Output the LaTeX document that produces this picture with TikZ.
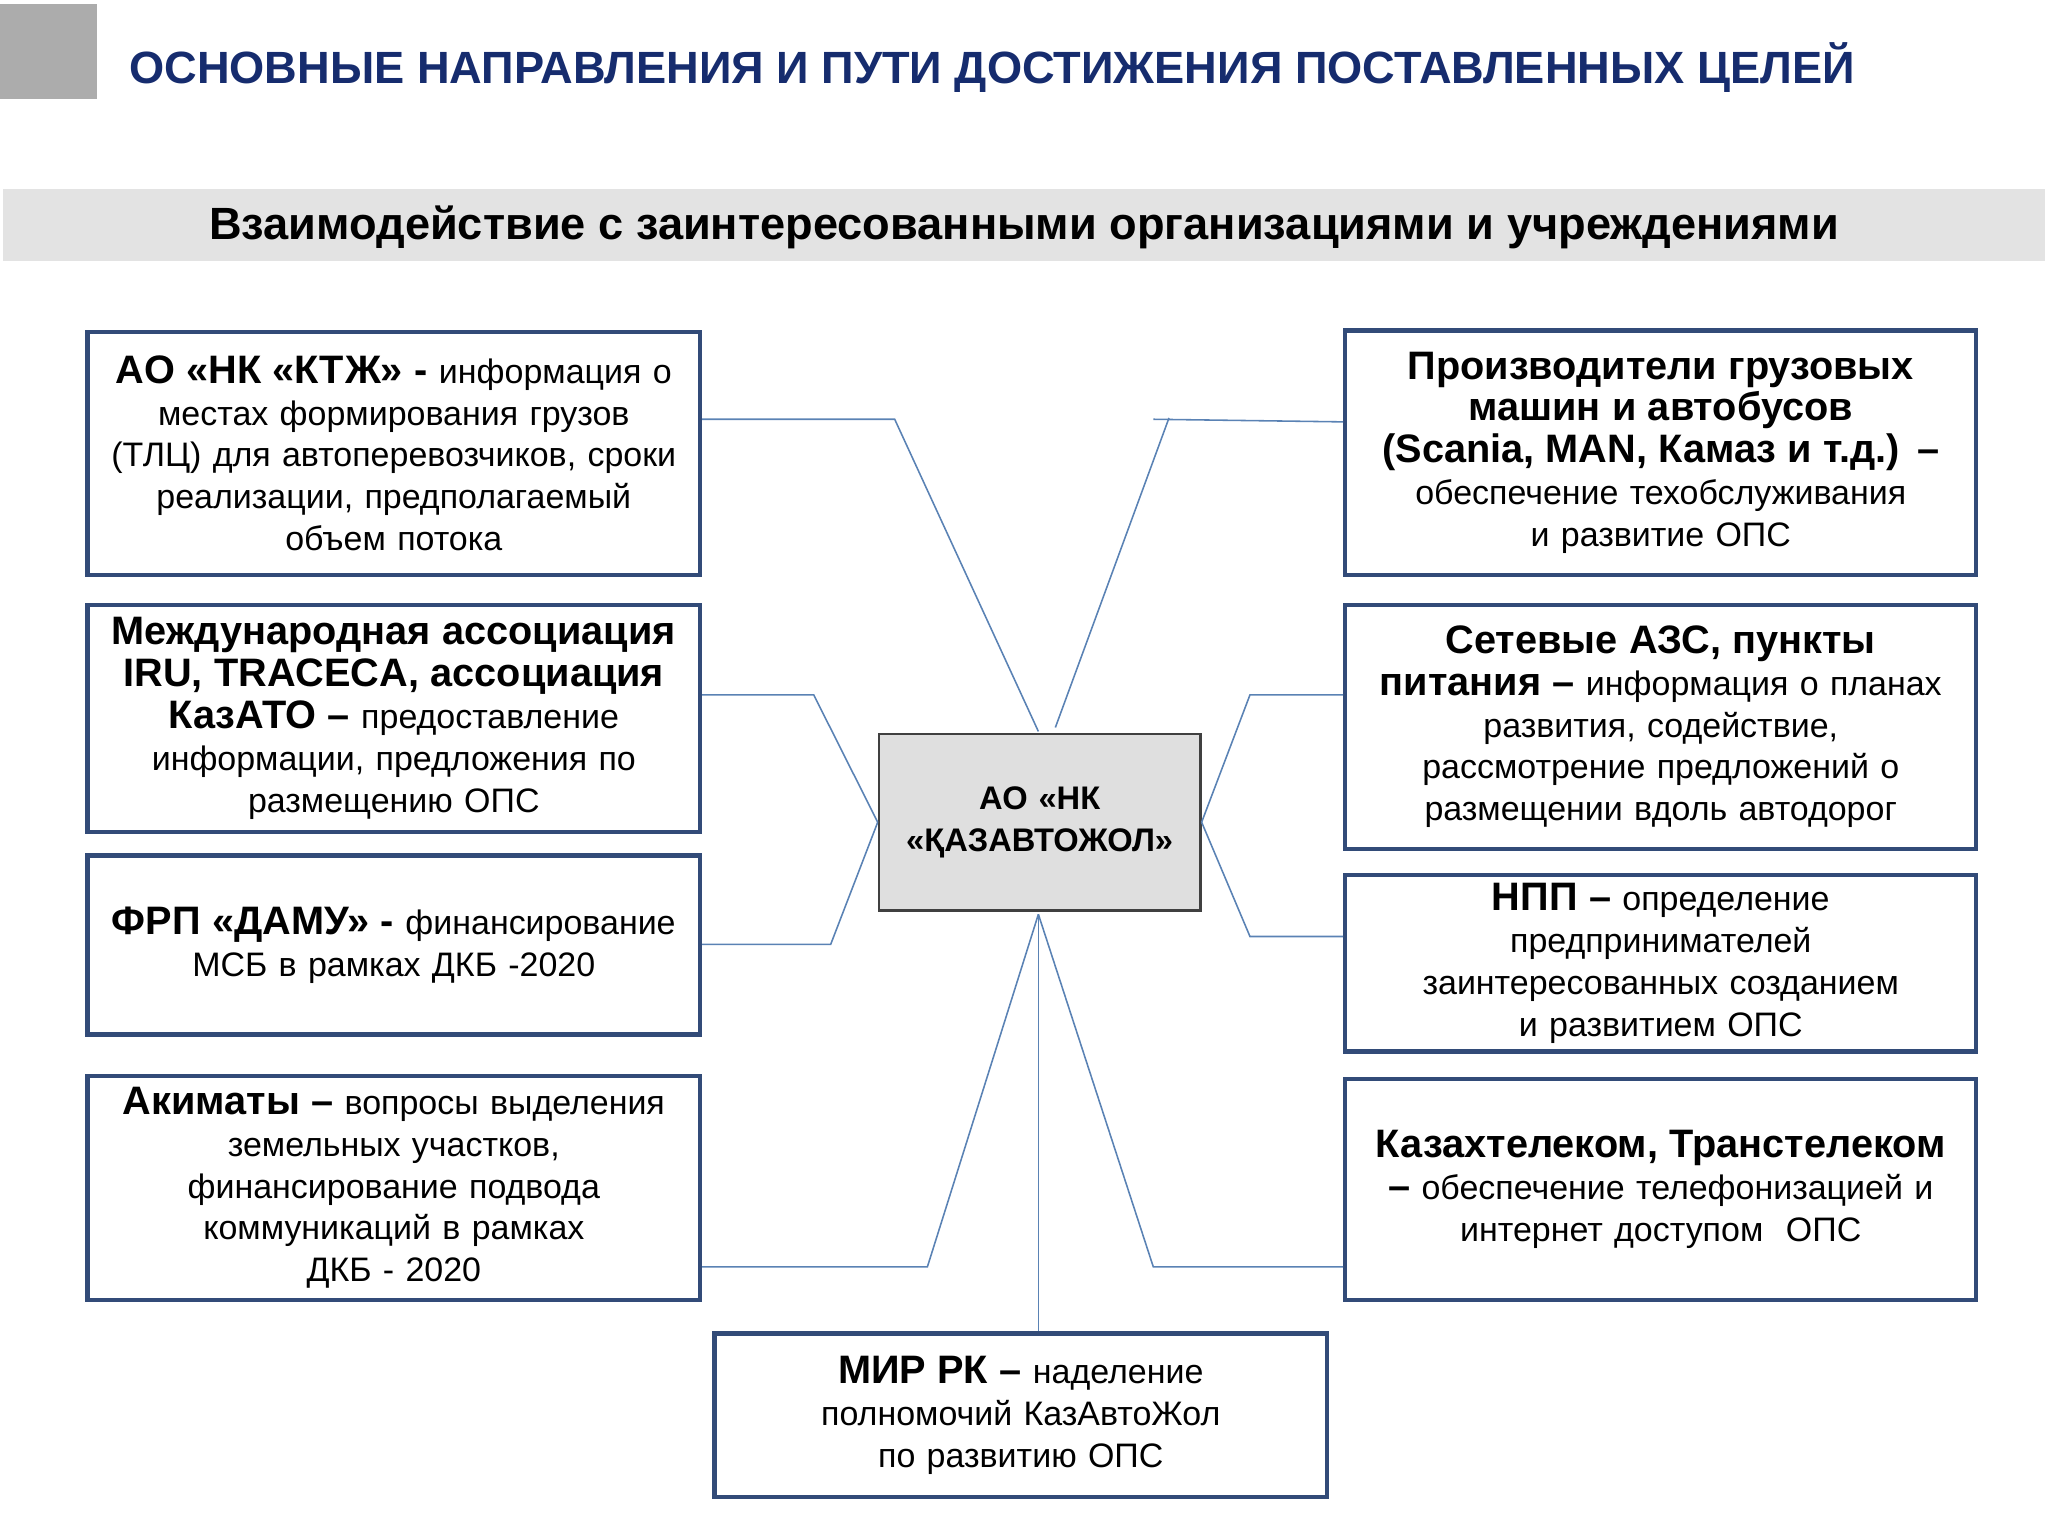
\documentclass[tikz,border=0pt]{standalone}
\usepackage{fontspec}
\setmainfont{Liberation Sans}
\definecolor{ttl}{RGB}{22,44,110}
\definecolor{bord}{RGB}{50,75,120}
\definecolor{conn}{RGB}{90,130,180}
\begin{document}
\begin{tikzpicture}[x=0.5pt,y=-0.5pt,
 box/.style={draw=bord,line width=1.6pt,align=center,inner sep=1pt,text width=232pt,font=\fontsize{13}{16}\selectfont},
 cn/.style={draw=conn,line width=0.6pt}]
\useasboundingbox (0,0) rectangle (1568,1176);
\fill[gray!65] (0,3) rectangle (74,76);
\node[anchor=west,text=ttl,font=\fontsize{17.3}{20}\selectfont\bfseries] (title) at (92,52) {ОСНОВНЫЕ НАПРАВЛЕНИЯ И ПУТИ ДОСТИЖЕНИЯ ПОСТАВЛЕННЫХ ЦЕЛЕЙ};
\fill[gray!22] (2,145) rectangle (1566,200);
\node[font=\fontsize{17.3}{20}\selectfont\bfseries] (band) at (784,174) {Взаимодействие с заинтересованными организациями и учреждениями};
\def\B#1{{\fontsize{15.2}{18}\selectfont\bfseries #1}}
\node[box,minimum width=234.5pt,minimum height=93pt] (L1) at (301.5,347) {\B{АО «НК «КТЖ» -} информация о\\ местах формирования грузов\\ (ТЛЦ) для автоперевозчиков, сроки\\ реализации, предполагаемый\\ объем потока};
\node[box,minimum width=234.5pt,minimum height=87pt] (L2) at (301.5,550) {\B{Международная ассоциация}\\ \B{IRU, TRACECA, ассоциация}\\ \B{КазАТО –} предоставление\\ информации, предложения по\\ размещению ОПС};
\node[box,minimum width=234.5pt,minimum height=68.5pt] (L3) at (301.5,723.5) {\B{ФРП «ДАМУ» -} финансирование\\ МСБ в рамках ДКБ -2020};
\node[box,minimum width=234.5pt,minimum height=85.5pt] (L4) at (301.5,909.5) {\B{Акиматы –} вопросы выделения\\ земельных участков,\\ финансирование подвода\\ коммуникаций в рамках\\ ДКБ - 2020};
\node[box,minimum width=241.5pt,minimum height=93.5pt,text width=239pt] (R1) at (1271.5,346.5) {\B{Производители грузовых}\\ \B{машин и автобусов}\\ \B{(Scania, MAN, Камаз и т.д.) –}\\ обеспечение техобслуживания\\ и развитие ОПС};
\node[box,minimum width=241.5pt,minimum height=93.5pt,text width=239pt] (R2) at (1271.5,556.5) {\B{Сетевые АЗС, пункты}\\ \B{питания –} информация о планах\\ развития, содействие,\\ рассмотрение предложений о\\ размещении вдоль автодорог};
\node[box,minimum width=241.5pt,minimum height=67.5pt,text width=239pt] (R3) at (1271.5,737.5) {\B{НПП –} определение\\ предпринимателей\\ заинтересованных созданием\\ и развитием ОПС};
\node[box,minimum width=241.5pt,minimum height=84.5pt,text width=239pt] (R4) at (1271.5,910.5) {\B{Казахтелеком, Транстелеком}\\ \B{–} обеспечение телефонизацией и\\ интернет доступом~~ОПС};
\node[box,minimum width=234.5pt,minimum height=62.5pt] (BT) at (781.5,1083.5) {\B{МИР РК –} наделение\\ полномочий КазАвтоЖол\\ по развитию ОПС};
\node[box,fill=gray!25,line width=1pt,draw=black!75,minimum width=123pt,minimum height=67.5pt,text width=115pt,font=\fontsize{12.5}{16}\selectfont\bfseries] (C) at (796,629.5) {АО «НК\\ «ҚАЗАВТОЖОЛ»};
\coordinate (Ct) at (795,560);
\coordinate (Cb) at (795,700);
\draw[cn] (L1.east|-0,321) -- (685,321) -- (Ct);
\draw[cn] (L2.east|-0,532) -- (623,532) -- (C.west);
\draw[cn] (L3.east|-0,723) -- (636,723) -- (C.west);
\draw[cn] (L4.east|-0,970) -- (710,970) -- (Cb);
\draw[cn] (R1.west|-0,323) -- (883,321);
\draw[cn] (895,320) -- (808,557);
\draw[cn] (R2.west|-0,532) -- (957,532) -- (C.east);
\draw[cn] (R3.west|-0,717) -- (957,717) -- (C.east);
\draw[cn] (R4.west|-0,970) -- (883,970) -- (Cb);
\draw[cn] (Cb) -- (BT.north-|Cb);
\end{tikzpicture}
\end{document}
